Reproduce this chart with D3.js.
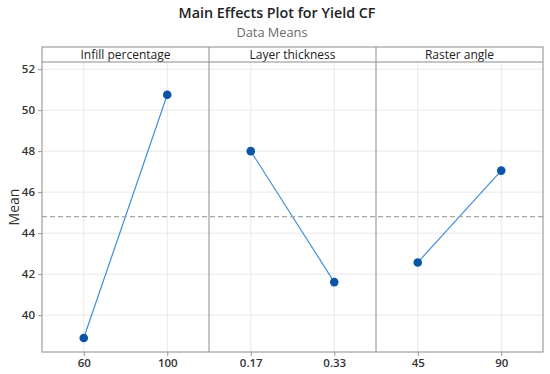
<!DOCTYPE html>
<html>
<head>
<meta charset="utf-8">
<script src="https://cdn.jsdelivr.net/npm/d3@7"></script>
<style>
	body { margin: 0; background: #fff; }
	text { font-family: "Open Sans", "Noto Sans", sans-serif; }
</style>
</head>
<body>
<div id="chart"></div>
<script>
'use strict';

// data
var factors = ['Infill percentage', 'Layer thickness', 'Raster angle'];
var levels = [['60', '100'], ['0.17', '0.33'], ['45', '90']];
var means = [[38.88, 50.75], [48.00, 41.61], [42.57, 47.05]];
var grandMean = 44.81;
var yTicks = [40, 42, 44, 46, 48, 50, 52];

var width = 550;
var height = 374;
var margin = {top: 47, right: 7, bottom: 22, left: 42};
var stripH = 15;

var svg = d3.select('#chart').append('svg')
	.attr('width', width)
	.attr('height', height);

var plotTop = margin.top + stripH;
var plotBottom = height - margin.bottom;

var x = d3.scaleBand()
	.domain(factors)
	.range([margin.left, width - margin.right]);

var y = d3.scaleLinear()
	.domain([38.2, 52.35])
	.range([plotBottom, plotTop]);

// titles
svg.append('text')
	.attr('x', 277).attr('y', 18)
	.attr('text-anchor', 'middle')
	.attr('font-size', 14.3)
	.attr('font-weight', 600)
	.attr('fill', '#222')
	.text('Main Effects Plot for Yield CF');

svg.append('text')
	.attr('x', 272).attr('y', 37)
	.attr('text-anchor', 'middle')
	.attr('font-size', 12.8)
	.attr('fill', '#6a6a6a')
	.text('Data Means');

svg.append('text')
	.attr('transform', 'translate(19,' + ((plotTop + plotBottom) / 2) + ') rotate(-90)')
	.attr('text-anchor', 'middle')
	.attr('font-size', 14)
	.attr('fill', '#333')
	.text('Mean');

// horizontal grid
svg.append('g').selectAll('line')
	.data(yTicks)
	.enter().append('line')
		.attr('x1', margin.left).attr('x2', width - margin.right)
		.attr('y1', function(d){ return y(d); })
		.attr('y2', function(d){ return y(d); })
		.attr('stroke', '#e8e8e8');

// y axis
var yAxis = svg.append('g')
	.attr('transform', 'translate(' + margin.left + ',0)')
	.call(d3.axisLeft(y).tickValues(yTicks).tickSize(4).tickPadding(3));
yAxis.select('.domain').remove();
yAxis.selectAll('.tick line').attr('stroke', '#999');
yAxis.selectAll('.tick text')
	.attr('font-size', 11.5)
	.attr('font-weight', 600)
	.attr('fill', '#333')
	.style('font-family', '"Open Sans", sans-serif');

// panels
factors.forEach(function(f, i){

	var x0 = x(f);
	var bw = x.bandwidth();
	var px = d3.scalePoint()
		.domain(levels[i])
		.range([x0, x0 + bw])
		.padding(0.5);

	var g = svg.append('g').attr('class', 'panel');

	g.selectAll('line.vgrid')
		.data(levels[i])
		.enter().append('line')
			.attr('class', 'vgrid')
			.attr('x1', function(d){ return px(d); })
			.attr('x2', function(d){ return px(d); })
			.attr('y1', plotTop).attr('y2', plotBottom)
			.attr('stroke', '#e8e8e8');

	var xAxis = g.append('g')
		.attr('transform', 'translate(0,' + plotBottom + ')')
		.call(d3.axisBottom(px).tickSize(4).tickPadding(3));
	xAxis.select('.domain').remove();
	xAxis.selectAll('.tick line').attr('stroke', '#999');
	xAxis.selectAll('.tick text')
		.attr('font-size', 11.5)
		.attr('font-weight', 600)
		.attr('fill', '#333')
		.style('font-family', '"Open Sans", sans-serif');

	// strip
	g.append('text')
		.attr('x', x0 + bw / 2)
		.attr('y', margin.top + 11.5)
		.attr('text-anchor', 'middle')
		.attr('font-size', 12)
		.attr('fill', '#222')
		.text(f);

	var pts = levels[i].map(function(l, j){ return [px(l), y(means[i][j])]; });

	g.append('path')
		.attr('fill', 'none')
		.attr('stroke', '#3f8fd8')
		.attr('stroke-width', 1.2)
		.attr('d', d3.line()(pts));

	g.selectAll('circle')
		.data(pts)
		.enter().append('circle')
			.attr('cx', function(d){ return d[0]; })
			.attr('cy', function(d){ return d[1]; })
			.attr('r', 4.3)
			.attr('fill', '#0b55a8');
});

// reference line at grand mean
svg.append('line')
	.attr('x1', margin.left).attr('x2', width - margin.right)
	.attr('y1', y(grandMean)).attr('y2', y(grandMean))
	.attr('stroke', '#a8a8a8')
	.attr('stroke-width', 1.2)
	.attr('stroke-dasharray', '5,3');

// frames
svg.append('rect')
	.attr('x', margin.left).attr('y', margin.top)
	.attr('width', width - margin.left - margin.right)
	.attr('height', plotBottom - margin.top)
	.attr('fill', 'none')
	.attr('stroke', '#8c8c8c');

svg.append('line')
	.attr('x1', margin.left).attr('x2', width - margin.right)
	.attr('y1', plotTop).attr('y2', plotTop)
	.attr('stroke', '#8c8c8c');

svg.append('g').selectAll('line')
	.data(factors.slice(1))
	.enter().append('line')
		.attr('x1', function(d){ return x(d); })
		.attr('x2', function(d){ return x(d); })
		.attr('y1', margin.top).attr('y2', plotBottom)
		.attr('stroke', '#8c8c8c');
</script>
</body>
</html>
